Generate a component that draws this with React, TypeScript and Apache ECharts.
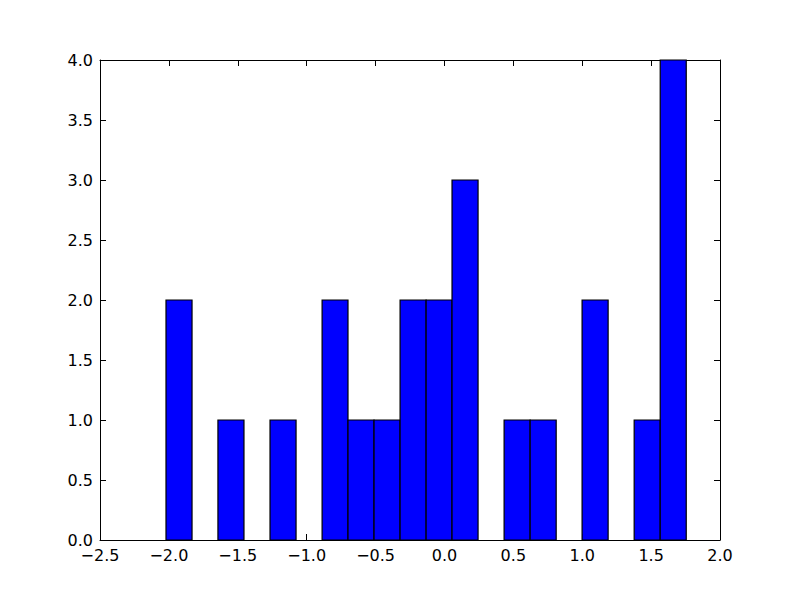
import React, { useEffect, useRef } from "react";
import * as echarts from "echarts";

// Histogram bin edges (21 edges -> 20 bins)
const binEdges = [
  -2.021, -1.832, -1.644, -1.455, -1.266, -1.077, -0.888, -0.7, -0.511, -0.322,
  -0.133, 0.055, 0.244, 0.433, 0.622, 0.811, 0.999, 1.188, 1.377, 1.566, 1.755,
];
// Counts per bin
const binCounts = [2, 0, 1, 0, 1, 0, 2, 1, 1, 2, 2, 3, 0, 1, 1, 0, 2, 0, 1, 4];

const xMin = -2.5;
const xMax = 2.0;
const yMin = 0;
const yMax = 4;
const tickStep = 0.5;

const fmt = (v: number) => v.toFixed(1).replace("-", "\u2212");

export default function App() {
  const ref = useRef<HTMLDivElement>(null);
  useEffect(() => {
    if (!ref.current) return;
    const chart = echarts.init(ref.current, null, { renderer: "svg" });
    const data = binCounts
      .map((c, i) => [binEdges[i], binEdges[i + 1], c])
      .filter((d) => d[2] > 0);
    const font = "DejaVu Sans";
    const axisCommon = {
      type: "value" as const,
      interval: tickStep,
      axisLine: { show: true, onZero: false, lineStyle: { color: "#000", width: 1 } },
      axisTick: { show: true, inside: true, length: 6, lineStyle: { color: "#000", width: 1 } },
      splitLine: { show: false },
    };
    chart.setOption({
      animation: false,
      backgroundColor: "#fff",
      grid: { left: 100, right: 80, top: 60, bottom: 60, containLabel: false },
      xAxis: [
        {
          ...axisCommon,
          position: "bottom",
          min: xMin,
          max: xMax,
          axisLabel: {
            show: true,
            formatter: fmt,
            color: "#000",
            fontFamily: font,
            fontSize: 16,
            lineHeight: 14,
            margin: 8,
          },
        },
        {
          ...axisCommon,
          position: "top",
          min: xMin,
          max: xMax,
          axisLabel: { show: false },
        },
      ],
      yAxis: [
        {
          ...axisCommon,
          position: "left",
          min: yMin,
          max: yMax,
          axisLabel: {
            show: true,
            formatter: fmt,
            color: "#000",
            fontFamily: font,
            fontSize: 16,
            lineHeight: 12,
            margin: 7,
          },
        },
        {
          ...axisCommon,
          position: "right",
          min: yMin,
          max: yMax,
          axisLabel: { show: false },
        },
      ],
      series: [
        {
          type: "custom",
          xAxisIndex: 0,
          yAxisIndex: 0,
          encode: { x: [0, 1], y: 2 },
          data,
          renderItem: (params: any, api: any) => {
            const start = api.coord([api.value(0), api.value(2)]);
            const end = api.coord([api.value(1), 0]);
            return {
              type: "rect",
              shape: {
                x: start[0],
                y: start[1],
                width: end[0] - start[0],
                height: end[1] - start[1],
              },
              style: { fill: "#0000ff", stroke: "#000", lineWidth: 1.2 },
            };
          },
        },
      ],
    });
    return () => chart.dispose();
  }, []);
  return (
    <div
      ref={ref}
      style={{ position: "fixed", left: 0, top: 0, width: 800, height: 600 }}
    />
  );
}
